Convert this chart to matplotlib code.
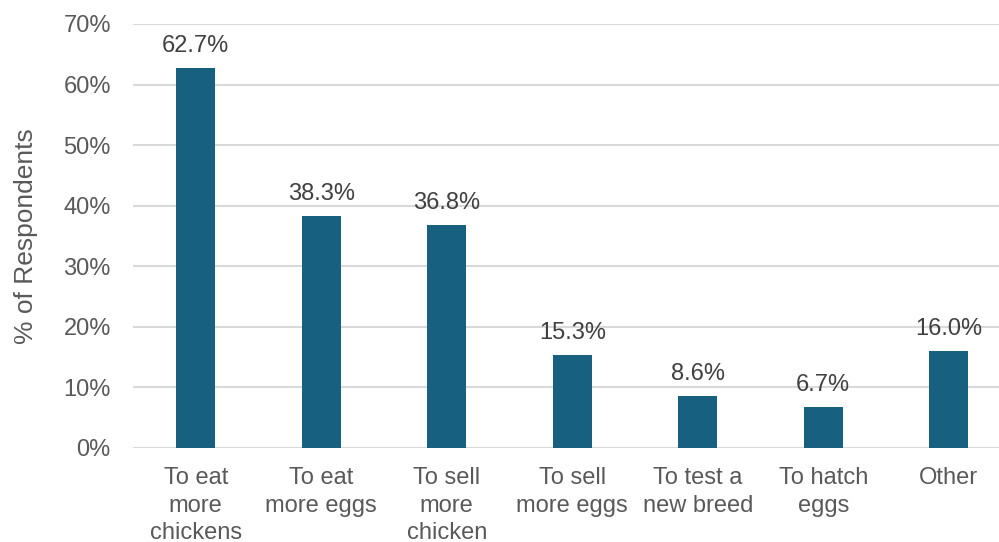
import numpy as np
import matplotlib.pyplot as plt

plt.rcParams['font.family'] = ['Liberation Sans', 'DejaVu Sans']

# Reasons for keeping chickens
categories = ['To eat\nmore\nchickens', 'To eat\nmore eggs', 'To sell\nmore\nchicken',
              'To sell\nmore eggs', 'To test a\nnew breed', 'To hatch\neggs', 'Other']
percent = [62.7, 38.3, 36.8, 15.3, 8.6, 6.7, 16.0]
y_ticks = [0, 10, 20, 30, 40, 50, 60, 70]

bar_color = '#17607f'
grid_color = '#d9d9d9'
tick_color = '#595959'
label_color = '#404040'

fig = plt.figure(figsize=(9.99, 5.42), dpi=100)
ax = fig.add_axes([133 / 999, 94 / 542, 866 / 999, 424 / 542])

x = np.arange(len(categories))
bars = ax.bar(x, percent, width=0.31, color=bar_color, zorder=3)

for b, v in zip(bars, percent):
    ax.annotate(f'{v:.1f}%', (b.get_x() + b.get_width() / 2, v),
                xytext=(0, 8), textcoords='offset points',
                ha='center', va='bottom', fontsize=17, color=label_color)

ax.set_ylim(0, 70)
ax.set_xlim(-0.5, 6.4)
ax.set_yticks(y_ticks)
ax.set_yticklabels([f'{t}%' for t in y_ticks])
ax.set_xticks(x)
ax.set_xticklabels(categories, linespacing=1.3)
ax.tick_params(axis='both', length=0, labelsize=17, colors=tick_color)
ax.tick_params(axis='x', pad=14)
ax.tick_params(axis='y', pad=16)

ax.grid(axis='y', color=grid_color, linewidth=1.5, zorder=0)
for s in ax.spines.values():
    s.set_visible(False)

ax.set_ylabel('% of Respondents', fontsize=19, color=tick_color, labelpad=18)

fig.savefig('out.png', dpi=100)
